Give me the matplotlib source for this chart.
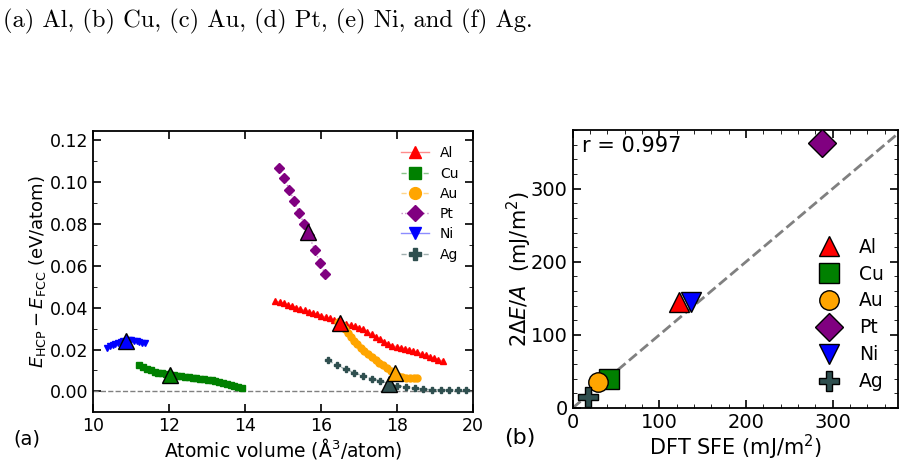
import matplotlib
matplotlib.use("Agg")
import matplotlib.pyplot as plt
from matplotlib.ticker import MultipleLocator, FormatStrFormatter
from matplotlib.colors import to_rgba

# ---- panel (a): E_HCP - E_FCC vs atomic volume ----
al_vol = [14.80, 14.91, 15.02, 15.13, 15.24, 15.35, 15.46, 15.57, 15.68, 15.79, 15.90,
          16.01, 16.12, 16.23, 16.34, 16.45, 16.56, 16.67, 16.78, 16.89, 17.00, 17.11,
          17.22, 17.33, 17.44, 17.55, 17.66, 17.77, 17.88, 17.99, 18.10, 18.21, 18.32,
          18.43, 18.54, 18.65, 18.76, 18.87, 18.98, 19.09, 19.20]
al_de = [0.0432, 0.0427, 0.0421, 0.0414, 0.0408, 0.0401, 0.0394, 0.0387, 0.0381, 0.0375, 0.0369,
         0.0362, 0.0356, 0.0349, 0.0342, 0.0335, 0.0329, 0.0323, 0.0318, 0.0312, 0.0305, 0.0296,
         0.0286, 0.0274, 0.0261, 0.0249, 0.0238, 0.0228, 0.0219, 0.0213, 0.0209, 0.0205, 0.0200,
         0.0194, 0.0187, 0.0180, 0.0173, 0.0166, 0.0159, 0.0152, 0.0146]

cu_vol = [11.22, 11.32, 11.42, 11.52, 11.62, 11.72, 11.82, 11.92, 12.02, 12.12, 12.22, 12.32,
          12.42, 12.52, 12.62, 12.72, 12.82, 12.92, 13.02, 13.12, 13.22, 13.32, 13.42, 13.52,
          13.62, 13.72, 13.82, 13.92]
cu_de = [0.0124, 0.0115, 0.0108, 0.0101, 0.0095, 0.0090, 0.0086, 0.0082, 0.0079, 0.0076, 0.0074,
         0.0072, 0.0070, 0.0068, 0.0066, 0.0064, 0.0061, 0.0058, 0.0055, 0.0052, 0.0048, 0.0044,
         0.0039, 0.0035, 0.0030, 0.0026, 0.0021, 0.0017]

au_vol = [16.45, 16.55, 16.64, 16.72, 16.80, 16.88, 16.96, 17.05, 17.14, 17.24, 17.34, 17.44,
          17.54, 17.64, 17.74, 17.84, 17.94, 18.04, 18.14, 18.24, 18.34, 18.44, 18.52]
au_de = [0.0330, 0.0318, 0.0298, 0.0278, 0.0260, 0.0243, 0.0226, 0.0208, 0.0192, 0.0177, 0.0163,
         0.0150, 0.0137, 0.0124, 0.0110, 0.0096, 0.0084, 0.0075, 0.0069, 0.0066, 0.0064, 0.0064,
         0.0064]

pt_vol = [14.89, 15.03, 15.17, 15.29, 15.43, 15.56, 15.68, 15.84, 15.97, 16.11]
pt_de = [0.1066, 0.1018, 0.0965, 0.0911, 0.0853, 0.0799, 0.0746, 0.0675, 0.0616, 0.0560]

ni_vol = [10.38, 10.45, 10.52, 10.59, 10.66, 10.73, 10.80, 10.87, 10.94, 11.01, 11.08, 11.15,
          11.22, 11.29, 11.36]
ni_de = [0.0209, 0.0215, 0.0221, 0.0227, 0.0232, 0.0237, 0.0240, 0.0243, 0.0244, 0.0244, 0.0242,
         0.0239, 0.0236, 0.0232, 0.0229]

ag_vol = [16.19, 16.42, 16.65, 16.87, 17.10, 17.33, 17.56, 17.78, 18.01, 18.24, 18.47, 18.69,
          18.92, 19.15, 19.38, 19.60, 19.83]
ag_de = [0.0148, 0.0124, 0.0106, 0.0089, 0.0074, 0.0061, 0.0050, 0.0038, 0.0028, 0.0020, 0.0014,
         0.0010, 0.0008, 0.0007, 0.0006, 0.0006, 0.0005]

# equilibrium points (big triangles)
eq_vol = {"Ni": 10.87, "Cu": 12.02, "Pt": 15.65, "Al": 16.50, "Ag": 17.80, "Au": 17.95}
eq_de = {"Ni": 0.0240, "Cu": 0.0077, "Pt": 0.0760, "Al": 0.0325, "Ag": 0.0035, "Au": 0.0088}

# ---- panel (b): 2dE/A vs DFT SFE ----
elements = ["Al", "Cu", "Au", "Pt", "Ni", "Ag"]
dft_sfe = [123, 42, 29, 288, 137, 18]
model_sfe = [145, 40, 35, 362, 145, 15]

colors = {"Al": "red", "Cu": "green", "Au": "orange", "Pt": "purple", "Ni": "blue",
          "Ag": "darkslategray"}
markers = {"Al": "^", "Cu": "s", "Au": "o", "Pt": "D", "Ni": "v", "Ag": "P"}
linestyles = {"Al": "-", "Cu": "--", "Au": "--", "Pt": ":", "Ni": "-", "Ag": "--"}

series = {
    "Al": (al_vol, al_de), "Cu": (cu_vol, cu_de), "Au": (au_vol, au_de),
    "Pt": (pt_vol, pt_de), "Ni": (ni_vol, ni_de), "Ag": (ag_vol, ag_de),
}

plt.rcParams["axes.linewidth"] = 1.3

fig = plt.figure(figsize=(9.09, 4.63), dpi=100)
fig.text(0.003, 1 - 27 / 463, "(a) Al, (b) Cu, (c) Au, (d) Pt, (e) Ni, and (f) Ag.",
         fontfamily="cmr10", fontsize=17.6, va="baseline")

ax1 = fig.add_axes([0.1023, 0.110, 0.418, 0.607])
ax1.axhline(0, color="gray", ls="--", lw=1)
for el in elements:
    v, e = series[el]
    c = colors[el]
    ax1.plot(v, e, ls=linestyles[el], lw=1, color=to_rgba(c, 0.45), marker=markers[el], ms=5,
             mfc=c, mec=c, label=el)
for el in ["Ni", "Cu", "Pt", "Al", "Ag", "Au"]:
    ax1.plot(eq_vol[el], eq_de[el], "^", ms=11, mfc=colors[el], mec="black", mew=1)

ax1.set_xlim(10, 20)
ax1.set_ylim(-0.0099, 0.1245)
ax1.xaxis.set_major_locator(MultipleLocator(2))
ax1.yaxis.set_major_locator(MultipleLocator(0.02))
ax1.yaxis.set_minor_locator(MultipleLocator(0.01))
ax1.yaxis.set_major_formatter(FormatStrFormatter("%.2f"))
ax1.tick_params(direction="in", top=True, right=True, labelsize=12.5, length=6, width=1.2)
ax1.tick_params(which="minor", direction="in", right=True, length=3)
ax1.set_xlabel("Atomic volume (Å$^3$/atom)", fontsize=13.5, labelpad=1)
ax1.set_ylabel(r"$E_{\mathrm{HCP}} - E_{\mathrm{FCC}}$ (eV/atom)", fontsize=13, labelpad=1)
ax1.legend(loc="upper right", frameon=False, fontsize=10, markerscale=1.7,
           labelspacing=0.45, handlelength=2.0, bbox_to_anchor=(0.995, 0.99))
fig.text(0.015, 0.04, "(a)", fontsize=14)

ax2 = fig.add_axes([0.630, 0.1188, 0.3575, 0.600])
ax2.plot([0, 380], [0, 380], ls="--", color="gray", lw=2, zorder=1)
for el, x, y in zip(elements, dft_sfe, model_sfe):
    ax2.plot(x, y, ls="none", marker=markers[el], ms=14, mfc=colors[el], mec="black",
             mew=1, label=el, zorder=3)
ax2.set_xlim(0, 375)
ax2.set_ylim(0, 380)
ax2.xaxis.set_major_locator(MultipleLocator(100))
ax2.yaxis.set_major_locator(MultipleLocator(100))
ax2.xaxis.set_minor_locator(MultipleLocator(20))
ax2.yaxis.set_minor_locator(MultipleLocator(20))
ax2.tick_params(direction="in", top=True, right=True, labelsize=14, length=6, width=1.2)
ax2.tick_params(which="minor", direction="in", top=True, right=True, length=3)
ax2.set_xlabel("DFT SFE (mJ/m$^2$)", fontsize=15, labelpad=1)
ax2.set_ylabel(r"$2\Delta E/A$  (mJ/m$^2$)", fontsize=15, labelpad=-2)
ax2.text(0.03, 0.92, "r = 0.997", transform=ax2.transAxes, fontsize=15)
ax2.legend(loc="lower right", frameon=False, fontsize=13.5, labelspacing=0.42,
           handletextpad=0.6, bbox_to_anchor=(1.01, 0.0))
fig.text(0.555, 0.04, "(b)", fontsize=16)

fig.savefig("out.png", dpi=100)
